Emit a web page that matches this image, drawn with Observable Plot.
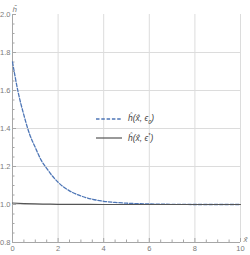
<!DOCTYPE html>
<html><head><meta charset="utf-8">
<script src="https://cdn.jsdelivr.net/npm/d3@7"></script>
<script src="https://cdn.jsdelivr.net/npm/@observablehq/plot@0.6"></script>
<style>
body{margin:0;background:#fff;}
#wrap{position:relative;width:250px;height:255px;font-family:"Liberation Sans",Arial,sans-serif;}
#legend{position:absolute;left:96px;top:109px;font-size:8.5px;color:#444;font-style:italic;}
#legend .row{display:flex;align-items:center;height:19px;}
#legend svg{margin-right:6px;}
sup{font-size:5.5px;}
sub{font-size:5.5px;}
</style>
</head><body>
<div id="wrap"><div id="legend"></div></div>
<script>
// dashed series: h(x, eps0)
const xDashed = [0, 0.25, 0.5, 0.75, 1, 1.25, 1.5, 1.75, 2, 2.5, 3, 3.5, 4, 4.5, 5, 6, 7, 8, 9, 10];
const yDashed = [1.75, 1.59, 1.47, 1.37, 1.30, 1.235, 1.19, 1.15, 1.117, 1.072, 1.045, 1.028, 1.017, 1.011, 1.007, 1.003, 1.001, 1.0, 1.0, 1.0];
// solid series: h(x, eps*)
const xSolid = [0, 0.5, 1, 1.5, 2, 3, 4, 6, 8, 10];
const ySolid = [1.008, 1.005, 1.003, 1.002, 1.001, 1.0005, 1.0, 1.0, 1.0, 1.0];
const xTicks = [0, 2, 4, 6, 8, 10];
const yTicks = [0.8, 1.0, 1.2, 1.4, 1.6, 1.8, 2.0];
const xMinor = d3.range(0, 10.001, 0.5).filter(v => v % 2 !== 0);
const yMinor = d3.range(0.8, 2.0001, 0.05).map(v => +v.toFixed(2)).filter(v => !yTicks.some(t => Math.abs(t - v) < 1e-6));
const seriesLabels = ["ĥ(x̂, ϵ<sub>0</sub>)", "ĥ(x̂, ϵ<sup>*</sup>)"];
const xAxisLabel = "x̂";
const yAxisLabel = "ĥ";

const dashed = xDashed.map((x, i) => ({x, y: yDashed[i]}));
const solid = xSolid.map((x, i) => ({x, y: ySolid[i]}));

const W = 250, H = 255;
const mL = 12, mR = 10, mT = 14, mB = 13;
const pxPerY = (H - mT - mB) / 1.2;
const pxPerX = (W - mL - mR) / 10;
const blue = "#4e76b6", gray = "#555";
const axisCol = "#a6a6a6", gridCol = "#dcdcdc";

const chart = Plot.plot({
  width: W, height: H,
  marginLeft: mL, marginRight: mR, marginTop: mT, marginBottom: mB,
  x: {domain: [0, 10]},
  y: {domain: [0.8, 2.0]},
  style: {fontFamily: "Liberation Sans, Arial, sans-serif", fontSize: "7.5px", color: "#7a7a7a", overflow: "visible"},
  marks: [
    Plot.ruleX(xTicks.filter(d => d > 0), {stroke: gridCol, strokeWidth: 1}),
    Plot.ruleY(yTicks.filter(d => d > 0.8 && d < 2.0), {stroke: gridCol, strokeWidth: 1}),
    Plot.ruleX([0], {stroke: axisCol}),
    Plot.ruleY([0.8], {stroke: axisCol}),
    Plot.ruleX(xTicks, {x: d => d, y1: 0.8, y2: 0.8 + 4 / pxPerY, stroke: axisCol}),
    Plot.ruleX(xMinor, {x: d => d, y1: 0.8, y2: 0.8 + 2.5 / pxPerY, stroke: axisCol}),
    Plot.ruleY(yTicks, {y: d => d, x1: 0, x2: 4 / pxPerX, stroke: axisCol}),
    Plot.ruleY(yMinor, {y: d => d, x1: 0, x2: 2.5 / pxPerX, stroke: axisCol}),
    Plot.axisX(xTicks, {anchor: "bottom", tickSize: 0, tickPadding: 3, tickFormat: d => String(d), label: null}),
    Plot.axisY(yTicks, {anchor: "left", tickSize: 0, tickPadding: 2, tickFormat: d3.format(".1f"), label: null}),
    Plot.line(dashed, {x: "x", y: "y", stroke: blue, strokeWidth: 1.3, strokeDasharray: "3.5,1.8", curve: "monotone-x"}),
    Plot.line(solid, {x: "x", y: "y", stroke: gray, strokeWidth: 1.2, curve: "monotone-x"}),
    Plot.text([yAxisLabel], {frameAnchor: "top-left", dy: -8, fontSize: 8, fill: "#7a7a7a", fontStyle: "italic"}),
    Plot.text([xAxisLabel], {frameAnchor: "bottom-right", dx: 7, dy: -1, fontSize: 8, fill: "#7a7a7a", fontStyle: "italic"})
  ]
});
document.getElementById("wrap").prepend(chart);

const legend = document.getElementById("legend");
const styles = [{stroke: blue, dash: "3.5,1.8", w: 1.3}, {stroke: gray, dash: null, w: 1.2}];
seriesLabels.forEach((lab, i) => {
  const row = document.createElement("div");
  row.className = "row";
  const s = styles[i];
  row.innerHTML = `<svg width="26" height="4"><line x1="0" x2="26" y1="2" y2="2" stroke="${s.stroke}" stroke-width="${s.w}" ${s.dash ? `stroke-dasharray="${s.dash}"` : ""}/></svg><span>${lab}</span>`;
  legend.appendChild(row);
});
</script>
</body></html>
